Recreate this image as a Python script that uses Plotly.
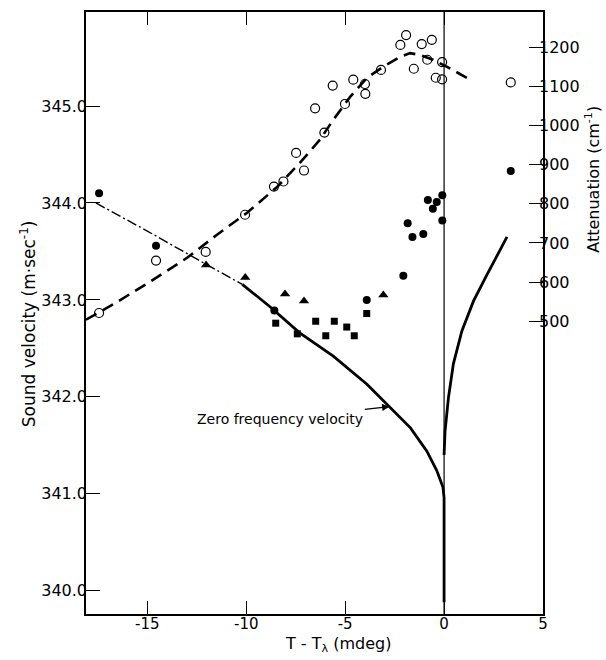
import plotly.graph_objects as go

# ---------------- data ----------------
# open circles: attenuation (right axis, cm^-1)
att_x = [-17.44, -14.56, -12.05, -10.06, -8.60, -8.12, -7.48, -7.08, -6.52, -6.05,
         -5.63, -5.01, -4.59, -4.00, -3.98, -3.19, -2.21, -1.92, -1.53, -1.13,
         -0.62, -0.85, -0.42, -0.10, -0.10, 3.37]
att_y = [521, 655, 677, 772, 844, 857, 930, 885, 1044, 982,
         1102, 1055, 1117, 1106, 1081, 1142, 1206, 1231, 1145, 1208,
         1219, 1168, 1122, 1162, 1118, 1110]

# dashed attenuation fit (right axis)
att_fit_x = [-18.1, -16.73, -14.86, -12.99, -11.48, -9.96, -8.44, -7.28, -6.27, -5.61,
             -4.75, -3.89, -3.08, -2.23, -1.72, -1.21, -0.56, 0.15, 1.32]
att_fit_y = [504, 543, 601, 662, 721, 777, 843, 905, 964, 1014,
             1073, 1122, 1150, 1175, 1185, 1180, 1168, 1150, 1117]

# filled circles: sound velocity (left axis, m/s)
vel_dot_x = [-17.44, -14.56, -8.58, -3.91, -2.06, -1.84, -1.60, -1.05, -0.82, -0.57,
             -0.37, -0.09, -0.09, 3.37]
vel_dot_y = [344.10, 343.56, 342.89, 343.00, 343.25, 343.79, 343.65, 343.68, 344.03, 343.94,
             344.01, 344.08, 343.82, 344.33]

# filled triangles
vel_tri_x = [-12.03, -10.05, -8.04, -7.08, -3.07]
vel_tri_y = [343.36, 343.23, 343.06, 342.99, 343.05]

# filled squares
vel_sq_x = [-8.51, -7.42, -6.49, -5.98, -5.55, -4.92, -4.54, -3.91]
vel_sq_y = [342.76, 342.65, 342.78, 342.63, 342.78, 342.72, 342.63, 342.86]

# zero frequency velocity: extrapolated (dash-dot) part
zf_ext_x = [-17.6, -15.0, -12.4, -10.2]
zf_ext_y = [344.00, 343.71, 343.41, 343.16]
# zero frequency velocity: below T_lambda (solid)
zf_low_x = [-10.2, -8.8, -7.3, -5.6, -3.9, -2.7, -1.7, -0.87, -0.37, -0.06, 0.0, 0.0]
zf_low_y = [343.16, 342.93, 342.66, 342.42, 342.13, 341.89, 341.68, 341.44, 341.24, 341.07, 340.96, 339.88]
# zero frequency velocity: above T_lambda (solid)
zf_high_x = [0.0, 0.05, 0.22, 0.47, 0.90, 1.49, 2.17, 3.18]
zf_high_y = [341.40, 341.65, 341.99, 342.34, 342.68, 342.99, 343.26, 343.65]

lambda_x = [0.0]

x_ticks = [-15, -10, -5, 0, 5]
x_ticktext = ["-15", "-10", "-5", "0", "5"]
v_ticks = [340.0, 341.0, 342.0, 343.0, 344.0, 345.0]
a_ticks = [500, 600, 700, 800, 900, 1000, 1100, 1200]

# ---------------- figure ----------------
FONT = "DejaVu Sans"
fig = go.Figure()

fig.add_trace(go.Scatter(x=zf_ext_x, y=zf_ext_y, mode="lines",
                         line=dict(color="black", width=1.4, dash="10px,3px,2px,3px"),
                         yaxis="y"))
fig.add_trace(go.Scatter(x=zf_low_x, y=zf_low_y, mode="lines",
                         line=dict(color="black", width=2.8), yaxis="y"))
fig.add_trace(go.Scatter(x=zf_high_x, y=zf_high_y, mode="lines",
                         line=dict(color="black", width=2.8), yaxis="y"))

fig.add_trace(go.Scatter(x=vel_dot_x, y=vel_dot_y, mode="markers",
                         marker=dict(symbol="circle", size=8, color="black"), yaxis="y"))
fig.add_trace(go.Scatter(x=vel_tri_x, y=vel_tri_y, mode="markers",
                         marker=dict(symbol="triangle-up", size=9, color="black"), yaxis="y"))
fig.add_trace(go.Scatter(x=vel_sq_x, y=vel_sq_y, mode="markers",
                         marker=dict(symbol="square", size=7, color="black"), yaxis="y"))

fig.add_trace(go.Scatter(x=att_fit_x, y=att_fit_y, mode="lines",
                         line=dict(color="black", width=2.6, dash="12px,7px"), yaxis="y2"))
fig.add_trace(go.Scatter(x=att_x, y=att_y, mode="markers",
                         marker=dict(symbol="circle-open", size=9, color="black",
                                     line=dict(width=1.2, color="black")), yaxis="y2"))

# thin vertical line at T = T_lambda
for lx in lambda_x:
    fig.add_shape(type="line", xref="x", yref="paper", x0=lx, x1=lx, y0=0, y1=1,
                  line=dict(color="black", width=1.2))

fig.add_annotation(x=-2.72, y=341.90, xref="x", yref="y", text="Zero frequency velocity",
                   showarrow=True, arrowhead=2, arrowsize=1.2, arrowwidth=1.2,
                   arrowcolor="black", ax=-110, ay=12, standoff=1,
                   font=dict(family=FONT, size=14, color="black"))

fig.add_annotation(xref="paper", yref="paper", x=-0.127, y=0.483,
                   text="Sound velocity (m·sec<sup>-1</sup>)", textangle=-90,
                   showarrow=False, xanchor="center", yanchor="middle",
                   font=dict(family=FONT, size=17, color="black"))
fig.add_annotation(xref="paper", yref="paper", x=1.108, y=0.722,
                   text="Attenuation (cm<sup>-1</sup>)", textangle=-90,
                   showarrow=False, xanchor="center", yanchor="middle",
                   font=dict(family=FONT, size=16, color="black"))
fig.add_annotation(xref="paper", yref="paper", x=0.551, y=-0.050,
                   text="T - T<sub>λ</sub> (mdeg)",
                   showarrow=False, xanchor="center", yanchor="middle",
                   font=dict(family=FONT, size=16, color="black"))

fig.update_layout(
    width=606, height=660,
    margin=dict(l=86, r=63, t=10, b=46),
    paper_bgcolor="white", plot_bgcolor="white",
    showlegend=False,
    font=dict(family=FONT, size=16, color="black"),
    xaxis=dict(range=[-18.1, 5.0], tickvals=x_ticks, ticktext=x_ticktext,
               ticks="inside", ticklen=13, tickwidth=1.3, tickcolor="black",
               showline=True, linecolor="black", linewidth=1.5, mirror="ticks",
               showgrid=False, zeroline=False, ticklabelstandoff=-5,
               tickfont=dict(size=15)),
    yaxis=dict(range=[339.76, 345.97], tickvals=v_ticks, tickformat=".1f",
               ticks="inside", ticklen=14, tickwidth=1.3, tickcolor="black",
               showline=True, linecolor="black", linewidth=1.5, mirror=True,
               showgrid=False, zeroline=False, ticklabelstandoff=-6),
    yaxis2=dict(range=[-248, 1290], tickvals=a_ticks, overlaying="y", side="right",
                ticks="inside", ticklen=14, tickwidth=1.3, tickcolor="black",
                showline=False, showgrid=False, zeroline=False, ticklabelstandoff=-5),
)

fig.write_html("out.html")
